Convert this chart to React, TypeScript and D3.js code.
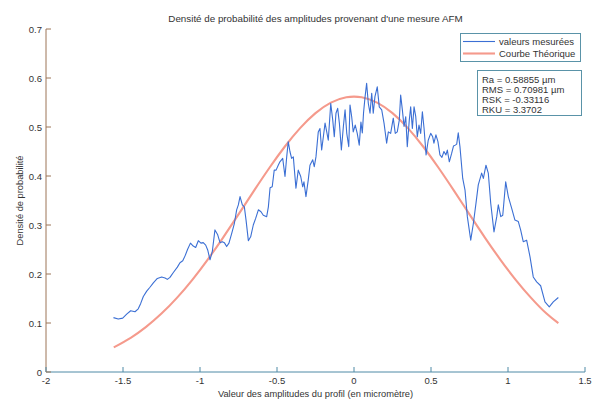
import React from "react";
import * as d3 from "d3";

const title = "Densité de probabilité des amplitudes provenant d'une mesure AFM";
const xLabel = "Valeur des amplitudes du profil (en micromètre)";
const yLabel = "Densité de probabilité";
const legendLabels = ["valeurs mesurées", "Courbe Théorique"];
const statsLines = ["Ra = 0.58855 µm", "RMS = 0.70981 µm", "RSK = -0.33116", "RKU = 3.3702"];

const xTicks = [-2, -1.5, -1, -0.5, 0, 0.5, 1, 1.5];
const xTickLabels = ["-2", "-1.5", "-1", "-0.5", "0", "0.5", "1", "1.5"];
const yTicks = [0, 0.1, 0.2, 0.3, 0.4, 0.5, 0.6, 0.7];
const yTickLabels = ["0", "0.1", "0.2", "0.3", "0.4", "0.5", "0.6", "0.7"];

const measuredX = [
  -1.562, -1.531, -1.502, -1.476, -1.45, -1.422, -1.401, -1.385, -1.368, -1.346,
  -1.325, -1.303, -1.277, -1.249, -1.227, -1.212, -1.195, -1.173, -1.147, -1.13,
  -1.112, -1.097, -1.081, -1.062, -1.044, -1.028, -1.011, -0.994, -0.979, -0.963,
  -0.95, -0.935, -0.92, -0.903, -0.885, -0.87, -0.855, -0.842, -0.827, -0.812,
  -0.794, -0.777, -0.762, -0.751, -0.74, -0.725, -0.712, -0.701, -0.686, -0.671,
  -0.654, -0.638, -0.621, -0.604, -0.589, -0.567, -0.556, -0.545, -0.531, -0.518,
  -0.506, -0.492, -0.481, -0.463, -0.448, -0.437, -0.427, -0.416, -0.405, -0.394,
  -0.377, -0.362, -0.346, -0.333, -0.325, -0.312, -0.297, -0.286, -0.268, -0.258,
  -0.247, -0.232, -0.221, -0.21, -0.199, -0.188, -0.177, -0.167, -0.151, -0.138,
  -0.128, -0.117, -0.106, -0.095, -0.082, -0.069, -0.058, -0.047, -0.034, -0.026,
  -0.015, -0.005, 0.008, 0.021, 0.034, 0.045, 0.054, 0.062, 0.071, 0.082,
  0.093, 0.104, 0.115, 0.125, 0.136, 0.151, 0.164, 0.18, 0.195, 0.212,
  0.223, 0.238, 0.255, 0.268, 0.281, 0.294, 0.303, 0.314, 0.325, 0.336,
  0.346, 0.359, 0.368, 0.379, 0.39, 0.401, 0.411, 0.422, 0.433, 0.444,
  0.455, 0.468, 0.482, 0.498, 0.511, 0.519, 0.532, 0.545, 0.558, 0.571,
  0.584, 0.597, 0.606, 0.619, 0.634, 0.646, 0.658, 0.667, 0.677, 0.688,
  0.706, 0.721, 0.736, 0.758, 0.775, 0.792, 0.807, 0.829, 0.84, 0.857,
  0.872, 0.888, 0.909, 0.927, 0.937, 0.953, 0.966, 0.985, 1.002, 1.024,
  1.045, 1.067, 1.082, 1.099, 1.121, 1.143, 1.164, 1.186, 1.212, 1.24,
  1.268, 1.294, 1.327,
];
const measuredY = [
  0.111, 0.108, 0.11, 0.118, 0.125, 0.123, 0.129, 0.14, 0.154, 0.165,
  0.173, 0.182, 0.191, 0.194, 0.192, 0.189, 0.193, 0.203, 0.214, 0.223,
  0.227, 0.237, 0.25, 0.263, 0.257, 0.254, 0.268, 0.263, 0.264, 0.259,
  0.249, 0.229, 0.246, 0.29, 0.28, 0.264, 0.266, 0.264, 0.256, 0.263,
  0.283, 0.303, 0.331, 0.341, 0.358, 0.341, 0.337, 0.31, 0.268, 0.276,
  0.3, 0.314, 0.331, 0.327, 0.32, 0.317, 0.337, 0.376, 0.378, 0.412,
  0.412, 0.422, 0.429, 0.436, 0.399, 0.439, 0.47, 0.45, 0.436, 0.439,
  0.375, 0.412, 0.399, 0.378, 0.388, 0.358, 0.392, 0.422, 0.433, 0.419,
  0.439, 0.49, 0.497, 0.453, 0.48, 0.508, 0.49, 0.473, 0.548, 0.514,
  0.48, 0.528, 0.538, 0.508, 0.453, 0.501, 0.535, 0.487, 0.46, 0.545,
  0.521, 0.49, 0.504, 0.487, 0.463, 0.51, 0.488, 0.529, 0.559, 0.589,
  0.548, 0.528, 0.569, 0.528, 0.562, 0.582, 0.541, 0.535, 0.508, 0.467,
  0.49, 0.487, 0.518, 0.487, 0.49, 0.514, 0.565, 0.535, 0.501, 0.521,
  0.46, 0.514, 0.541, 0.497, 0.541, 0.521, 0.48, 0.504, 0.487, 0.531,
  0.497, 0.443, 0.473, 0.487, 0.48, 0.467, 0.484, 0.47, 0.443, 0.438,
  0.45, 0.443, 0.453, 0.429, 0.446, 0.461, 0.463, 0.465, 0.488, 0.46,
  0.395, 0.371, 0.317, 0.269, 0.303, 0.344, 0.382, 0.406, 0.395, 0.422,
  0.406, 0.344, 0.286, 0.317, 0.341, 0.317, 0.32, 0.388, 0.358, 0.334,
  0.31, 0.307, 0.29, 0.266, 0.269, 0.235, 0.194, 0.184, 0.176, 0.143,
  0.133, 0.143, 0.152,
];

const theoryX = [
  -1.56, -1.45, -1.35, -1.25, -1.15, -1.05, -0.95, -0.85, -0.75, -0.65,
  -0.55, -0.45, -0.35, -0.25, -0.15, -0.05, 0.05, 0.15, 0.25, 0.35,
  0.45, 0.55, 0.65, 0.75, 0.85, 0.95, 1.05, 1.15, 1.25, 1.327,
];
const theoryY = [
  0.0502, 0.0698, 0.0921, 0.1192, 0.1513, 0.1882, 0.2295, 0.2744, 0.3216, 0.3696,
  0.4163, 0.4597, 0.4977, 0.5283, 0.5497, 0.5607, 0.5607, 0.5497, 0.5283, 0.4977,
  0.4597, 0.4163, 0.3696, 0.3216, 0.2744, 0.2295, 0.1882, 0.1513, 0.1192, 0.0998,
];

const W = 601;
const H = 403;
const FONT = "'Liberation Sans', Arial, Helvetica, sans-serif";
const BLUE = "#3b6fd4";
const RED = "#f59a8c";
const TEXT = "#333";
const XAXIS = "#4f8aa6";
const YAXIS = "#9c7456";
const BOX = "#5a93a8";

export default function App() {
  const x = d3.scaleLinear().domain([-2, 1.5]).range([46, 585]);
  const y = d3.scaleLinear().domain([0, 0.7]).range([372, 29]);

  const measured = measuredX.map((v, i) => [v, measuredY[i]] as [number, number]);
  const theory = theoryX.map((v, i) => [v, theoryY[i]] as [number, number]);

  const lineM = d3.line<[number, number]>().x((d) => x(d[0])).y((d) => y(d[1]));
  const lineT = d3
    .line<[number, number]>()
    .x((d) => x(d[0]))
    .y((d) => y(d[1]))
    .curve(d3.curveNatural);

  const x0 = x(-2);
  const x1 = x(1.5);
  const y0 = y(0);
  const y1 = y(0.7);

  return (
    <svg
      width={W}
      height={H}
      style={{ position: "absolute", left: 0, top: 0, background: "#fff" }}
      fontFamily={FONT}
    >
      <rect x={0} y={0} width={W} height={H} fill="#fff" />
      <text x={(x0 + x1) / 2} y={22} textAnchor="middle" fontSize={9.8} fill={TEXT}>
        {title}
      </text>

      {/* theoretical curve */}
      <path d={lineT(theory) || ""} fill="none" stroke={RED} strokeWidth={2.1} />
      {/* measured values */}
      <path d={lineM(measured) || ""} fill="none" stroke={BLUE} strokeWidth={1.1} strokeLinejoin="round" />

      {/* axes */}
      <line x1={x0} x2={x1} y1={y0} y2={y0} stroke={XAXIS} strokeWidth={1} />
      <line x1={x0} x2={x0} y1={y0} y2={y1} stroke={YAXIS} strokeWidth={1} />
      {xTicks.map((t, i) => (
        <g key={"xt" + i}>
          <line x1={x(t)} x2={x(t)} y1={y0} y2={y0 - 5} stroke={XAXIS} strokeWidth={1} />
          <text x={x(t)} y={y0 + 12} textAnchor="middle" fontSize={9.5} fill={TEXT}>
            {xTickLabels[i]}
          </text>
        </g>
      ))}
      {yTicks.map((t, i) => (
        <g key={"yt" + i}>
          <line x1={x0} x2={x0 + 5} y1={y(t)} y2={y(t)} stroke={YAXIS} strokeWidth={1} />
          <text x={x0 - 4} y={y(t) + 3.5} textAnchor="end" fontSize={9.5} fill={TEXT}>
            {yTickLabels[i]}
          </text>
        </g>
      ))}
      <text x={(x0 + x1) / 2} y={397} textAnchor="middle" fontSize={9.3} fill={TEXT}>
        {xLabel}
      </text>
      <text
        transform={`translate(23, ${(y0 + y1) / 2}) rotate(-90)`}
        textAnchor="middle"
        fontSize={9.3}
        fill={TEXT}
      >
        {yLabel}
      </text>

      {/* legend */}
      <rect x={460.5} y={33.5} width={120} height={28} fill="#fff" stroke={BOX} strokeWidth={1} />
      <line x1={463} x2={495} y1={41.5} y2={41.5} stroke={BLUE} strokeWidth={1.1} />
      <line x1={463} x2={495} y1={53.5} y2={53.5} stroke={RED} strokeWidth={2.1} />
      <text x={499} y={45} fontSize={9.5} fill={TEXT}>{legendLabels[0]}</text>
      <text x={499} y={57} fontSize={9.5} fill={TEXT}>{legendLabels[1]}</text>

      {/* stats box */}
      <rect x={477.5} y={70.5} width={104} height={45} fill="#fff" stroke={BOX} strokeWidth={1} />
      {statsLines.map((s, i) => (
        <text key={"s" + i} x={482} y={82.5 + i * 10} fontSize={9.5} fill={TEXT}>
          {s}
        </text>
      ))}
    </svg>
  );
}
